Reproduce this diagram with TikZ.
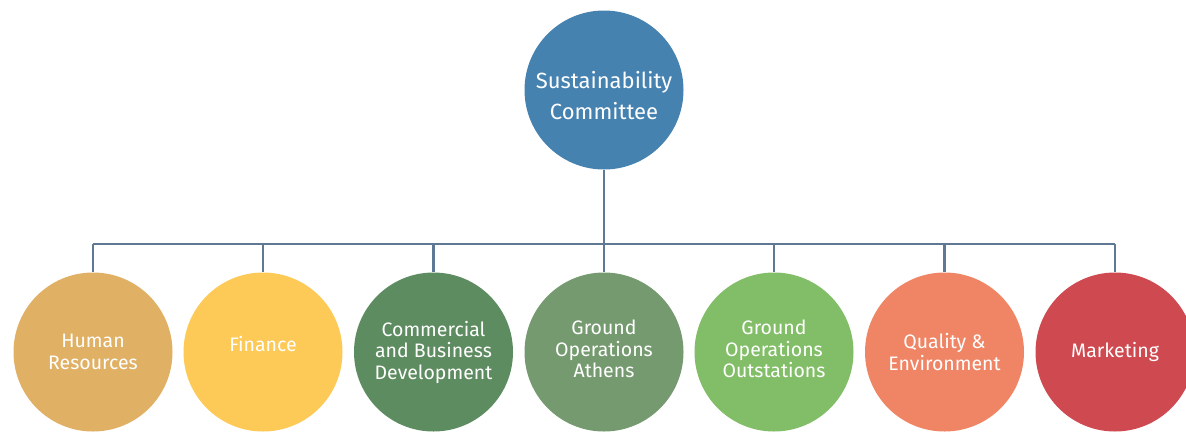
\documentclass[tikz,border=0pt]{standalone}
\usepackage{fontspec}
\setmainfont{Fira Sans}
\definecolor{topblue}{HTML}{4682B0}
\definecolor{hrcol}{HTML}{E0B064}
\definecolor{fincol}{HTML}{FDCA58}
\definecolor{comcol}{HTML}{5E8C61}
\definecolor{athcol}{HTML}{769A70}
\definecolor{outcol}{HTML}{82BE67}
\definecolor{qualcol}{HTML}{EF8565}
\definecolor{mktcol}{HTML}{CF4A50}
\definecolor{linecol}{HTML}{5F7894}
\begin{document}
\begin{tikzpicture}[x=1pt,y=-1pt,
  bubble/.style={circle,minimum size=159pt,inner sep=0pt,text=white,align=center,font=\fontsize{19.5}{21.5}\selectfont},
  bubbletext/.style={text=white,align=center,inner sep=0pt},
  conn/.style={draw=linecol,line width=2.8pt}]
\useasboundingbox (0,0) rectangle (1186,432);
\clip (0,0) rectangle (1186,432);
\node[bubble,fill=topblue] (top) at (604,90) {};
\node[bubbletext,font=\fontsize{22}{31}\selectfont] (toptext) at (604,96) {Sustainability\\Committee};
\node[bubble,fill=hrcol] (hr) at (93,352) {Human\\Resources};
\node[bubble,fill=fincol] (fin) at (263,352) {};
\node[bubbletext,font=\fontsize{19.5}{21.5}\selectfont] (fintext) at (263,344) {Finance};
\node[bubble,fill=comcol] (com) at (433.5,352) {Commercial\\and Business\\Development};
\node[bubble,fill=athcol] (ath) at (604,352) {};
\node[bubbletext,font=\fontsize{19.5}{21.5}\selectfont] (athtext) at (604,349) {Ground\\Operations\\Athens};
\node[bubble,fill=outcol] (out) at (774,352) {};
\node[bubbletext,font=\fontsize{19.5}{21.5}\selectfont] (outtext) at (774,349) {Ground\\Operations\\Outstations};
\node[bubble,fill=qualcol] (qual) at (944.5,352) {Quality \&\\Environment};
\node[bubble,fill=mktcol] (mkt) at (1115,352) {Marketing};
\coordinate (bus) at (604,244);
\draw[conn] (top.south) -- (bus);
\draw[conn] (hr.north |- bus) -- (mkt.north |- bus);
\foreach \n in {hr,fin,com,ath,out,qual,mkt}{
  \draw[conn] (\n.north |- bus) -- (\n.north);
}
\end{tikzpicture}
\end{document}
